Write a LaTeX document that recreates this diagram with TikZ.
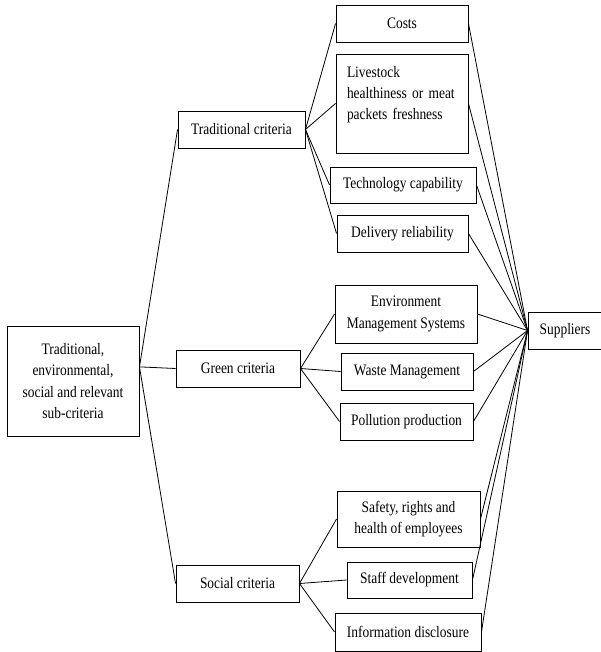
\documentclass[tikz,border=0pt]{standalone}
\usepackage{fontspec}
\setmainfont{Liberation Serif}[FakeStretch=0.84]
\begin{document}
\begin{tikzpicture}[x=0.75pt,y=0.75pt,yscale=-1,xscale=1,
  crit/.style={draw, line width=0.7pt, inner sep=0pt, align=center, minimum height=27.75pt, font=\fontsize{12}{16}\selectfont},
  link/.style={line width=0.6pt}]
\useasboundingbox (0,0) rectangle (600,652);

% Main box
\node[crit, minimum width=99pt, minimum height=82.5pt] (root) at (73,381) {Traditional,\\environmental,\\social and relevant\\sub-criteria};

% Criteria
\node[crit, minimum width=95.25pt] (trad) at (241.5,129.5) {Traditional criteria};
\node[crit, minimum width=93pt] (green) at (238,368.5) {Green criteria};
\node[crit, minimum width=92.25pt] (social) at (237.5,583.5) {Social criteria};

% Sub-criteria, traditional
\node[crit, minimum width=99pt] (costs) at (402,23.5) {Costs};
\node[crit, minimum width=99pt, minimum height=74.25pt, text width=82.5pt, align=left] (live) at (402,103.5) {Livestock\\healthiness or meat\\packets freshness\\\mbox{}};
\node[crit, minimum width=109.5pt, minimum height=27pt] (tech) at (403,185) {Technology capability};
\node[crit, minimum width=98.25pt] (deliv) at (402.5,233.5) {Delivery reliability};

% Sub-criteria, green
\node[crit, minimum width=106.5pt, minimum height=43.5pt] (ems) at (406,314) {Environment\\Management Systems};
\node[crit, minimum width=99pt] (waste) at (407,371.5) {Waste Management};
\node[crit, minimum width=99.75pt] (poll) at (406.5,421.5) {Pollution production};

% Sub-criteria, social
\node[crit, minimum width=107.25pt, minimum height=42pt] (safety) at (408.5,519) {Safety, rights and\\health of employees};
\node[crit, minimum width=93.75pt, minimum height=27pt] (staff) at (409.5,580) {Staff development};
\node[crit, minimum width=109.5pt, minimum height=28.5pt] (info) at (408,632) {Information disclosure};

% Alternatives
\node[crit, minimum width=55.5pt] (sup) at (565,330.5) {Suppliers};

% Connectors
\foreach \c in {trad,green,social}
  \draw[link] (root.12) -- (\c.west);
\foreach \s in {costs,live,tech,deliv}
  \draw[link] (trad.east) -- (\s.west);
\foreach \s in {ems,waste,poll}
  \draw[link] (green.east) -- (\s.west);
\foreach \s in {safety,staff,info}
  \draw[link] (social.east) -- (\s.west);
\foreach \s in {costs,live,tech,deliv,ems,waste,poll,safety,staff,info}
  \draw[link] (\s.east) -- (sup.west);

\end{tikzpicture}
\end{document}
